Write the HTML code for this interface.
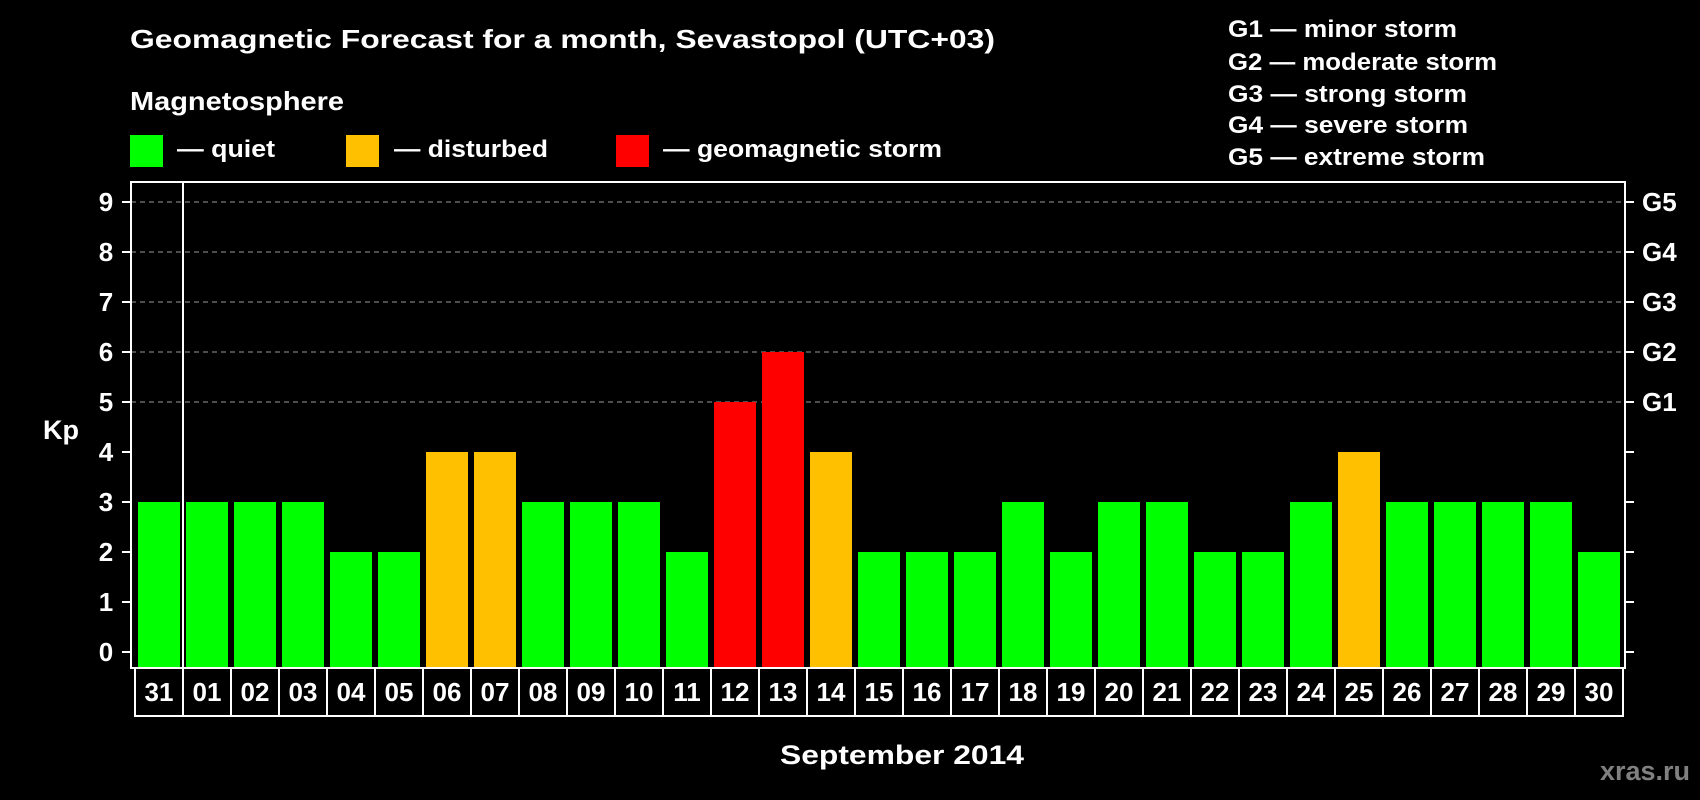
<!DOCTYPE html>
<html><head><meta charset="utf-8"><style>
html,body{margin:0;padding:0;background:#000;}
svg{display:block;}
text{font-family:"Liberation Sans",sans-serif;font-weight:bold;fill:#fff;}
</style></head><body>
<svg id="c" width="1700" height="800" viewBox="0 0 1700 800">
<text x="130" y="48" font-size="26" textLength="865" lengthAdjust="spacingAndGlyphs">Geomagnetic Forecast for a month, Sevastopol (UTC+03)</text>
<text x="130" y="110" font-size="26" textLength="214" lengthAdjust="spacingAndGlyphs">Magnetosphere</text>
<g>
<rect x="130" y="135" width="33" height="32" fill="#00ff00"/>
<text x="177" y="157" font-size="24" textLength="98" lengthAdjust="spacingAndGlyphs">— quiet</text></g>
<g>
<rect x="346" y="135" width="33" height="32" fill="#ffc000"/>
<text x="394" y="157" font-size="24" textLength="154" lengthAdjust="spacingAndGlyphs">— disturbed</text></g>
<g>
<rect x="616" y="135" width="33" height="32" fill="#ff0000"/>
<text x="663" y="157" font-size="24" textLength="279" lengthAdjust="spacingAndGlyphs">— geomagnetic storm</text></g>
<g font-size="24">
<text x="1228" y="37" textLength="229" lengthAdjust="spacingAndGlyphs">G1 — minor storm</text>
<text x="1228" y="70" textLength="269" lengthAdjust="spacingAndGlyphs">G2 — moderate storm</text>
<text x="1228" y="102" textLength="239" lengthAdjust="spacingAndGlyphs">G3 — strong storm</text>
<text x="1228" y="133" textLength="240" lengthAdjust="spacingAndGlyphs">G4 — severe storm</text>
<text x="1228" y="165" textLength="257" lengthAdjust="spacingAndGlyphs">G5 — extreme storm</text>
</g>
<text x="43" y="439" font-size="27">Kp</text>
<text x="902" y="764" font-size="27" text-anchor="middle" textLength="244" lengthAdjust="spacingAndGlyphs">September 2014</text>
<text x="1690" y="780" font-size="27" text-anchor="end" style="fill:#808080">xras.ru</text>
<g id="plot"></g>
</svg>
<script>
const days = ["31","01","02","03","04","05","06","07","08","09","10","11","12","13","14","15","16","17","18","19","20","21","22","23","24","25","26","27","28","29","30"];
const kpValues = [3,3,3,3,2,2,4,4,3,3,3,2,5,6,4,2,2,2,3,2,3,3,2,2,3,4,3,3,3,3,2];
const yTicks = [0,1,2,3,4,5,6,7,8,9];
const gLabels = ["G1","G2","G3","G4","G5"];
const gLevels = [5,6,7,8,9];

const NS = "http://www.w3.org/2000/svg";
const g = document.getElementById('plot');
const L = 131, R = 1625, T = 182, B = 668;
const y0 = 652, unit = 50;
const y = v => y0 - v * unit;
const step = 48, barW = 42, x0 = 138;
const x = i => x0 + i * step;
function mk(tag, attrs, parent) {
  const e = document.createElementNS(NS, tag);
  for (const k in attrs) e.setAttribute(k, attrs[k]);
  (parent || g).appendChild(e);
  return e;
}
// grid
gLevels.forEach(v => {
  const l = mk('line', {x1: L, x2: R, y1: y(v), y2: y(v), stroke: '#9a9a9a', 'stroke-width': 1, 'stroke-dasharray': '5 4'});
  
  
});
// bars
kpValues.forEach((v, i) => {
  const col = v >= 5 ? '#ff0000' : (v >= 4 ? '#ffc000' : '#00ff00');
  const r = mk('rect', {x: x(i), y: y(v), width: barW, height: B - y(v), fill: col});
  
  
});
// frame
const fr = mk('rect', {x: L, y: T, width: R - L, height: B - T, fill: 'none', stroke: '#fff', 'stroke-width': 2});


const vl = mk('line', {x1: x(1) - 3, x2: x(1) - 3, y1: T, y2: B, stroke: '#fff', 'stroke-width': 2});


// y ticks
yTicks.forEach(v => {
  const t1 = mk('line', {x1: 122, x2: L, y1: y(v), y2: y(v), stroke: '#fff', 'stroke-width': 2});
  
  
  const t2 = mk('line', {x1: R, x2: 1634, y1: y(v), y2: y(v), stroke: '#fff', 'stroke-width': 2});
  
  
  const tx = mk('text', {x: 106, y: y(v) + 9, 'font-size': 26, 'text-anchor': 'middle'});
  tx.textContent = v;
  
  
});
gLabels.forEach((s, i) => {
  const tx = mk('text', {x: 1642, y: y(gLevels[i]) + 9, 'font-size': 26});
  tx.textContent = s;
  
  
});
// day label boxes
const bx = mk('rect', {x: 135, y: B, width: 1623 - 135, height: 48, fill: 'none', stroke: '#fff', 'stroke-width': 2});


days.forEach((d, i) => {
  if (i > 0) {
    const dv = mk('line', {x1: x(i) - 3, x2: x(i) - 3, y1: B, y2: B + 48, stroke: '#fff', 'stroke-width': 2});
    
    
  }
  const tx = mk('text', {x: x(i) + barW / 2, y: 701, 'font-size': 26, 'text-anchor': 'middle'});
  tx.textContent = d;
  
  
});
</script>
</body></html>
